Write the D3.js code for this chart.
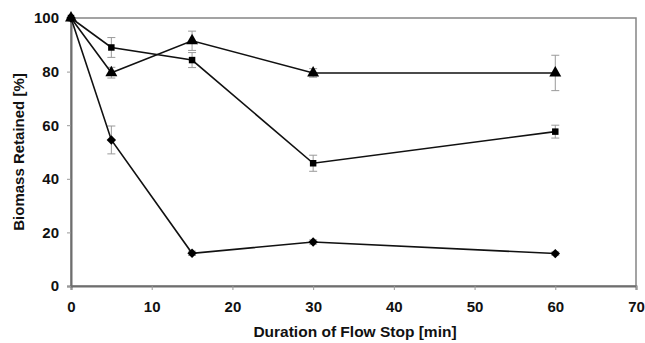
<!DOCTYPE html>
<html lang="en">
<head>
    <meta charset="utf-8">
    <script src="https://cdn.jsdelivr.net/npm/d3@7"></script>
    <style>
        body { margin: 0; background: #fff; }
        text { font-family: "Liberation Sans", Arial, sans-serif; font-weight: bold; }
    </style>
</head>
<body>
<script>
    let w = 645, h = 343;
    let margin = {top: 18, right: 9, bottom: 57, left: 71};

    let minutes = [0, 5, 15, 30, 60];
    let triangle = [100, 79.6, 91.5, 79.5, 79.5];
    let triangleErr = [0, 2, 3.6, 1.6, 6.6];
    let square = [100, 89, 84.3, 45.8, 57.6];
    let squareErr = [0, 3.7, 2.8, 3, 2.4];
    let diamond = [100, 54.5, 12.2, 16.4, 12.1];
    let diamondErr = [0, 5.2, 0.8, 0.8, 0.6];

    let xTicks = [0, 10, 20, 30, 40, 50, 60, 70];
    let yTicks = [0, 20, 40, 60, 80, 100];

    let svg = d3.select("body").append("svg")
        .attr("width", w)
        .attr("height", h);

    let x = d3.scaleLinear().domain([0, 70]).range([margin.left, w - margin.right]);
    let y = d3.scaleLinear().domain([0, 100]).range([h - margin.bottom, margin.top]);

    // frame (top and right)
    svg.append("rect")
        .attr("x", x(0)).attr("y", y(100))
        .attr("width", x(70) - x(0)).attr("height", y(0) - y(100))
        .attr("fill", "none").attr("stroke", "#858585").attr("stroke-width", 1.5);

    let xAxis = svg.append("g")
        .attr("transform", "translate(0," + y(0) + ")")
        .call(d3.axisBottom(x).tickValues(xTicks).tickSize(4).tickPadding(11));
    let yAxis = svg.append("g")
        .attr("transform", "translate(" + x(0) + ",0)")
        .call(d3.axisLeft(y).tickValues(yTicks).tickSize(4).tickPadding(8));

    [xAxis, yAxis].forEach(function(a) {
        a.select(".domain").attr("stroke", "#6e6e6e").attr("stroke-width", 2);
        a.selectAll(".tick line").attr("stroke", "#999");
        a.selectAll(".tick text").attr("fill", "#111").style("font-size", "15px");
    });

    svg.append("text")
        .attr("x", 355).attr("y", 337)
        .attr("text-anchor", "middle").style("font-size", "15.5px").attr("fill", "#111")
        .text("Duration of Flow Stop [min]");
    svg.append("text")
        .attr("transform", "translate(24," + ((y(0) + y(100)) / 2) + ") rotate(-90)")
        .attr("text-anchor", "middle").style("font-size", "15px").attr("fill", "#111")
        .text("Biomass Retained [%]");

    let series = [
        {vals: triangle, err: triangleErr, sym: d3.symbolTriangle, size: 62, rot: 0},
        {vals: square, err: squareErr, sym: d3.symbolSquare, size: 42, rot: 0},
        {vals: diamond, err: diamondErr, sym: d3.symbolSquare, size: 44, rot: 45}
    ];

    let line = d3.line()
        .x(function(d) { return x(d[0]); })
        .y(function(d) { return y(d[1]); });

    series.forEach(function(s) {
        let pts = minutes.map(function(m, i) { return [m, s.vals[i], s.err[i]]; });

        // error bars
        let eb = svg.append("g").attr("stroke", "#9a9a9a").attr("stroke-width", 1);
        pts.filter(function(d) { return d[2] > 0; }).forEach(function(d) {
            eb.append("line")
                .attr("x1", x(d[0])).attr("x2", x(d[0]))
                .attr("y1", y(d[1] + d[2])).attr("y2", y(d[1] - d[2]));
            [d[1] + d[2], d[1] - d[2]].forEach(function(v) {
                eb.append("line")
                    .attr("x1", x(d[0]) - 4).attr("x2", x(d[0]) + 4)
                    .attr("y1", y(v)).attr("y2", y(v));
            });
        });

        svg.append("path")
            .datum(pts)
            .attr("d", line)
            .attr("fill", "none")
            .attr("stroke", "#111")
            .attr("stroke-width", 1.6);

        svg.selectAll(null)
            .data(pts)
            .join("path")
            .attr("transform", function(d) {
                return "translate(" + x(d[0]) + "," + y(d[1]) + ") rotate(" + s.rot + ")";
            })
            .attr("d", d3.symbol().type(s.sym).size(s.size))
            .attr("fill", "#000");
    });
</script>
</body>
</html>
